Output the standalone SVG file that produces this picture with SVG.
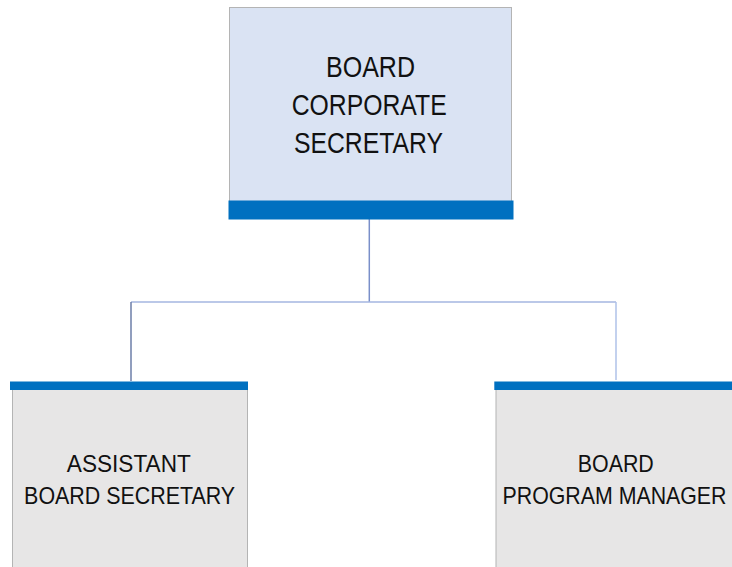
<svg xmlns="http://www.w3.org/2000/svg" width="732" height="567" viewBox="0 0 732 567">
<style>
.box{stroke:#b4b4b4;stroke-width:1}
.top{fill:#dae3f3}
.sub{fill:#e7e6e6}
.bar{fill:#0070c0}
.t{font-family:"Liberation Sans","Roboto",sans-serif;fill:#111;text-anchor:middle}
.big{font-size:30px}
.small{font-size:24px}
.c{fill:none;stroke-width:1.5}
</style>
<rect width="732" height="567" fill="#fff"/>
<g id="connectors">
<line class="c" x1="369.3" y1="219" x2="369.3" y2="302" stroke="#7a8fc9"/>
<line class="c" x1="131" y1="302" x2="616" y2="302" stroke="#a4b6e0"/>
<line class="c" x1="131" y1="302" x2="131" y2="381" stroke="#6d7ea8"/>
<line class="c" x1="616" y1="302" x2="616" y2="380" stroke="#afc2e8"/>
</g>
<g id="node-corporate-secretary">
<rect class="box top" x="229.5" y="7.5" width="282" height="194"/>
<rect class="bar" x="228.5" y="200.5" width="285" height="19"/>
<text class="t big" x="370.5" y="77" textLength="89" lengthAdjust="spacingAndGlyphs">BOARD</text>
<text class="t big" x="369.2" y="114.5" textLength="155" lengthAdjust="spacingAndGlyphs">CORPORATE</text>
<text class="t big" x="368.4" y="152.5" textLength="149" lengthAdjust="spacingAndGlyphs">SECRETARY</text>
</g>
<g id="node-assistant">
<rect class="box sub" x="12.5" y="389" width="235" height="190"/>
<rect class="bar" x="10" y="381.5" width="238" height="8.5"/>
<text class="t small" x="128.8" y="472.3" textLength="124" lengthAdjust="spacingAndGlyphs">ASSISTANT</text>
<text class="t small" x="129.6" y="504.3" textLength="211" lengthAdjust="spacingAndGlyphs">BOARD SECRETARY</text>
</g>
<g id="node-program-manager">
<rect class="box sub" x="496" y="389" width="240" height="190"/>
<rect class="bar" x="494.3" y="381.5" width="245" height="8.5"/>
<text class="t small" x="615.8" y="472.3" textLength="76" lengthAdjust="spacingAndGlyphs">BOARD</text>
<text class="t small" x="614.5" y="504.3" textLength="224" lengthAdjust="spacingAndGlyphs">PROGRAM MANAGER</text>
</g>
</svg>
